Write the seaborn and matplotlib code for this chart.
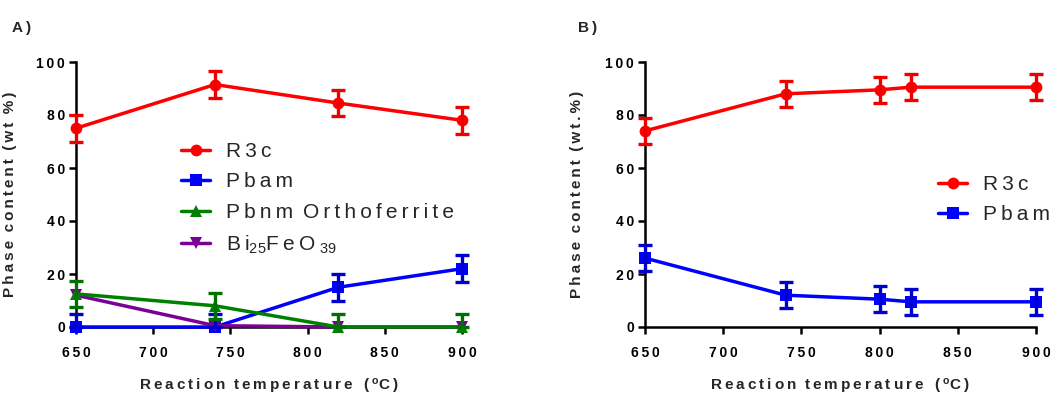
import numpy as np
import pandas as pd
import matplotlib
matplotlib.use("Agg")
import matplotlib.pyplot as plt
import seaborn as sns

# ---- data -------------------------------------------------------------
temp_a = [650, 740, 820, 900]
r3c_a = [75.0, 91.5, 84.5, 78.0]
r3c_a_err = [5.0, 5.0, 5.0, 5.0]
pbam_a = [0.0, 0.0, 15.0, 22.0]
pbam_a_err = [5.0, 5.0, 5.0, 5.0]
pbnm_a = [12.5, 8.0, 0.0, 0.0]
pbnm_a_err = [5.0, 5.0, 5.0, 5.0]
bi25_a = [12.0, 0.5, 0.0, 0.0]

temp_b = [650, 740, 800, 820, 900]
r3c_b = [74.0, 88.0, 89.5, 90.5, 90.5]
r3c_b_err = [5.0, 5.0, 5.0, 5.0, 5.0]
pbam_b = [26.0, 12.0, 10.5, 9.5, 9.5]
pbam_b_err = [5.0, 5.0, 5.0, 5.0, 5.0]

x_ticks = [650, 700, 750, 800, 850, 900]
y_ticks = [0, 20, 40, 60, 80, 100]

# ---- style ------------------------------------------------------------
sns.set_theme(style="ticks")
plt.rcParams["font.family"] = ["Liberation Sans", "DejaVu Sans"]
plt.rcParams["mathtext.fontset"] = "custom"
plt.rcParams["mathtext.rm"] = "Liberation Sans"
plt.rcParams["mathtext.default"] = "regular"

THIN = "\u2009"


def spaced(s):
    return THIN.join(s)


RED, BLUE, GREEN, PURPLE = "#ff0000", "#0000ff", "#008000", "#7a0096"
ERR = {RED: "#ee0000", BLUE: "#0000cc", GREEN: "#007000", PURPLE: "#7a0096"}

W, H = 1064, 396
fig = plt.figure(figsize=(W / 100, H / 100), dpi=100)


def px_axes(left, right, top, bottom):
    return fig.add_axes([left / W, 1 - bottom / H, (right - left) / W, (bottom - top) / H])


ax_a = px_axes(76, 462, 62, 327)
ax_b = px_axes(645, 1036, 62, 327)


def draw_series(ax, x, y, err, color, marker, label):
    df = pd.DataFrame({"T": x, "v": y})
    sns.lineplot(data=df, x="T", y="v", ax=ax, color=color, marker=marker,
                 markersize=8.5, markeredgewidth=0, linewidth=2.5, label=label,
                 clip_on=False, zorder=3)
    if err is not None:
        # values cannot drop below zero, so the lower whisker stops at the axis
        lower = [min(e, v) for e, v in zip(err, y)]
        ax.errorbar(x, y, yerr=[lower, err], fmt="none", ecolor=ERR[color],
                    elinewidth=2.4, capsize=5, capthick=2.4, clip_on=False, zorder=4)


# Panel A
draw_series(ax_a, temp_a, pbam_a, pbam_a_err, BLUE, "s", spaced("Pbam"))
draw_series(ax_a, temp_a, bi25_a, None, PURPLE, "v",
            "B" + THIN + "i$_{25}$" + "F" + THIN + "e" + THIN + "O" + THIN + "$_{39}$")
draw_series(ax_a, temp_a, pbnm_a, pbnm_a_err, GREEN, "^",
            spaced("Pbnm") + THIN + " " + spaced("Orthoferrite"))
draw_series(ax_a, temp_a, r3c_a, r3c_a_err, RED, "o", spaced("R3c"))

# Panel B
draw_series(ax_b, temp_b, pbam_b, pbam_b_err, BLUE, "s", spaced("Pbam"))
draw_series(ax_b, temp_b, r3c_b, r3c_b_err, RED, "o", spaced("R3c"))

tick_font = dict(fontsize=10, fontweight="bold")
for ax, ylab in ((ax_a, "Phase content (wt %)"), (ax_b, "Phase content (wt.%)")):
    ax.set_xlim(650, 900)
    ax.set_ylim(0, 100)
    ax.set_xticks(x_ticks)
    ax.set_yticks(y_ticks)
    ax.set_xticklabels([spaced(str(t)) for t in x_ticks], **tick_font)
    ax.set_yticklabels([spaced(str(t)) for t in y_ticks], **tick_font)
    sns.despine(ax=ax)
    for side in ("left", "bottom"):
        ax.spines[side].set_linewidth(1.8)
        ax.spines[side].set_color("black")
    ax.tick_params(axis="both", direction="out", length=5, width=1.8, colors="black")
    ax.tick_params(axis="x", pad=9)
    ax.tick_params(axis="y", pad=3)
    ax.set_xlabel(spaced("Reaction") + "  " + spaced("temperature") + "  " + THIN + "(" + THIN
                  + "$^{o}$" + "C" + THIN + ")",
                  fontsize=11, fontweight="bold")
    words = ylab.split(" ")
    ax.set_ylabel("  ".join(spaced(w) for w in words), fontsize=11, fontweight="bold")
    ax.xaxis.set_label_coords(0.5, -0.19)
    ax.yaxis.set_label_coords(-0.153 if ax is ax_a else -0.155, 0.5)
    ax.set_facecolor("white")


def make_legend(ax, order, anchor):
    h, l = ax.get_legend_handles_labels()
    lut = dict(zip(l, h))
    labels = [l[i] for i in order]
    leg = ax.legend([lut[k] for k in labels], labels, loc="upper left",
                    bbox_to_anchor=(anchor[0] / W, 1 - anchor[1] / H),
                    bbox_transform=fig.transFigure, frameon=False, fontsize=15,
                    handlelength=1.4, handletextpad=0.75, labelspacing=0.55,
                    borderpad=0, borderaxespad=0)
    return leg


# legend order: R3c, Pbam, Pbnm, Bi25FeO39
make_legend(ax_a, [3, 0, 2, 1], (181, 142))
make_legend(ax_b, [1, 0], (938, 175))

fig.text(12 / W, 1 - 28 / H, "A" + THIN + ")", fontsize=11, fontweight="bold", va="center", ha="left")
fig.text(578 / W, 1 - 28 / H, "B" + THIN + ")", fontsize=11, fontweight="bold", va="center", ha="left")

fig.savefig("out.png", dpi=100, facecolor="white")
